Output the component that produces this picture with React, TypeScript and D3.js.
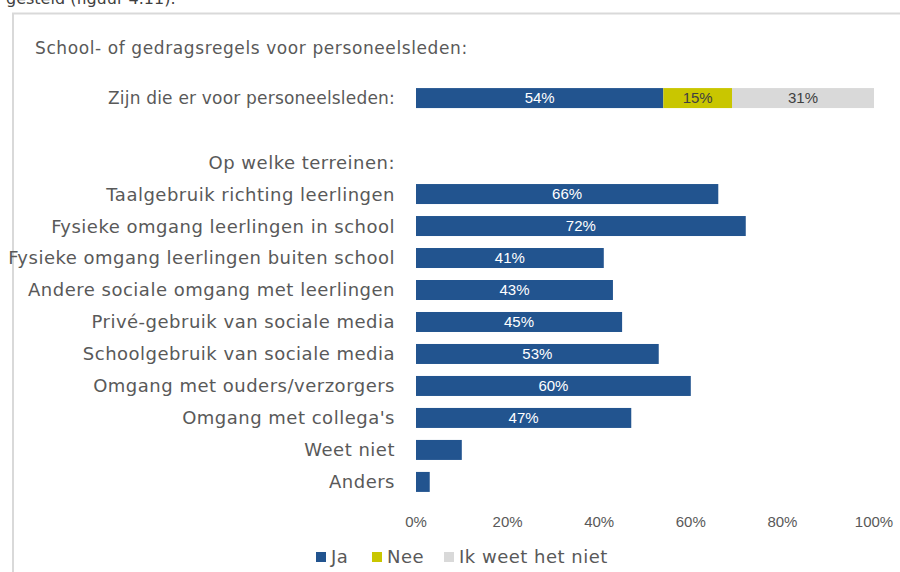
import React, { useEffect, useRef } from 'react';
import * as d3 from 'd3';

// rows of the chart (top stacked row, blank spacer, header, then the single-series bars)
const rows: string[] = [
  'Zijn die er voor personeelsleden:',
  '',
  'Op welke terreinen:',
  'Taalgebruik richting leerlingen',
  'Fysieke omgang leerlingen in school',
  'Fysieke omgang leerlingen buiten school',
  'Andere sociale omgang met leerlingen',
  'Privé-gebruik van sociale media',
  'Schoolgebruik van sociale media',
  'Omgang met ouders/verzorgers',
  "Omgang met collega's",
  'Weet niet',
  'Anders',
];

const series: string[] = ['Ja', 'Nee', 'Ik weet het niet'];
const colors: string[] = ['#22548f', '#c9c600', '#d9d9d9'];
const labelColors: string[] = ['#ffffff', '#404040', '#404040'];

// stacked row
const topJa = 54;
const topNee = 15;
const topWeetNiet = 31;

// domains (Ja only)
const domainValues: number[] = [66, 72, 41, 43, 45, 53, 60, 47, 10, 3];
const domainLabels: string[] = ['66%', '72%', '41%', '43%', '45%', '53%', '60%', '47%', '', ''];

const ticks: number[] = [0, 20, 40, 60, 80, 100];

const W = 900;
const H = 572;

const App: React.FC = () => {
  const svgRef = useRef<SVGSVGElement | null>(null);

  useEffect(() => {
    const svg = d3.select(svgRef.current);
    svg.selectAll('*').remove();

    const labelFont = "'DejaVu Sans', Verdana, sans-serif";
    const numFont = "'Liberation Sans Narrow', 'Liberation Sans', sans-serif";
    const grey = '#595959';

    const x = d3.scaleLinear().domain([0, 100]).range([416, 874]);
    const y = d3.scaleBand<string>().domain(rows.map((r, i) => i + '')).range([82, 498]).paddingInner(0.375).paddingOuter(0.19);

    // cut-off sentence above the chart frame
    svg.append('text')
      .attr('x', 6)
      .attr('y', 4)
      .attr('font-family', labelFont)
      .attr('font-size', 16)
      .attr('fill', '#404040')
      .text('gesteld (figuur 4.11).');

    // chart frame
    svg.append('rect')
      .attr('x', 13)
      .attr('y', 13.5)
      .attr('width', W)
      .attr('height', H)
      .attr('fill', '#fff')
      .attr('stroke', '#d9d9d9')
      .attr('stroke-width', 2);

    svg.append('text')
      .attr('x', 35)
      .attr('y', 54)
      .attr('font-family', labelFont)
      .attr('font-size', 17)
      .attr('letter-spacing', 0.6)
      .attr('fill', grey)
      .text('School- of gedragsregels voor personeelsleden:');

    // category labels
    svg.append('g')
      .selectAll('text')
      .data(rows)
      .enter()
      .append('text')
      .attr('x', 395)
      .attr('y', (d, i) => (y(i + '') as number) + y.bandwidth() / 2)
      .attr('dy', '0.36em')
      .attr('text-anchor', 'end')
      .attr('font-family', labelFont)
      .attr('font-size', (d, i) => (i === 0 ? 17 : 18))
      .attr('letter-spacing', (d, i) => (i === 0 ? 0.2 : 0.5))
      .attr('fill', grey)
      .text(d => d);

    // stacked top row
    const stackVals = [topJa, topNee, topWeetNiet];
    const cum = d3.cumsum(stackVals);
    const segs = stackVals.map((v, i) => ({ v, start: cum[i] - v, end: cum[i], i }));
    const top = svg.append('g');
    top.selectAll('rect')
      .data(segs)
      .enter()
      .append('rect')
      .attr('x', d => x(d.start))
      .attr('y', y('0') as number)
      .attr('width', d => x(d.end) - x(d.start))
      .attr('height', y.bandwidth())
      .attr('fill', d => colors[d.i]);
    top.selectAll('text')
      .data(segs)
      .enter()
      .append('text')
      .attr('x', d => (x(d.start) + x(d.end)) / 2)
      .attr('y', (y('0') as number) + y.bandwidth() / 2)
      .attr('dy', '0.36em')
      .attr('text-anchor', 'middle')
      .attr('font-family', numFont)
      .attr('font-size', 15)
      .attr('fill', d => labelColors[d.i])
      .text(d => d.v + '%');

    // domain bars
    const bars = svg.append('g');
    bars.selectAll('rect')
      .data(domainValues)
      .enter()
      .append('rect')
      .attr('x', x(0))
      .attr('y', (d, i) => y(i + 3 + '') as number)
      .attr('width', d => x(d) - x(0))
      .attr('height', y.bandwidth())
      .attr('fill', colors[0]);
    bars.selectAll('text')
      .data(domainValues)
      .enter()
      .append('text')
      .attr('x', d => (x(0) + x(d)) / 2)
      .attr('y', (d, i) => (y(i + 3 + '') as number) + y.bandwidth() / 2)
      .attr('dy', '0.36em')
      .attr('text-anchor', 'middle')
      .attr('font-family', numFont)
      .attr('font-size', 15)
      .attr('fill', '#fff')
      .text((d, i) => domainLabels[i]);

    // x axis (labels only)
    svg.append('g')
      .selectAll('text')
      .data(ticks)
      .enter()
      .append('text')
      .attr('x', d => x(d))
      .attr('y', 527)
      .attr('text-anchor', 'middle')
      .attr('font-family', numFont)
      .attr('font-size', 15)
      .attr('fill', grey)
      .text(d => d + '%');

    // legend
    const legendX = [316, 372, 444];
    const legend = svg.append('g');
    series.forEach((s, i) => {
      legend.append('rect')
        .attr('x', legendX[i])
        .attr('y', 552)
        .attr('width', 10)
        .attr('height', 10)
        .attr('fill', colors[i]);
      legend.append('text')
        .attr('x', legendX[i] + 15)
        .attr('y', 563)
        .attr('font-family', labelFont)
        .attr('font-size', 18)
        .attr('letter-spacing', 0.5)
        .attr('fill', grey)
        .text(s);
    });
  }, []);

  return (
    <svg
      ref={svgRef}
      width={W}
      height={H}
      style={{ position: 'absolute', left: 0, top: 0, background: '#fff' }}
    ></svg>
  );
};

export default App;
